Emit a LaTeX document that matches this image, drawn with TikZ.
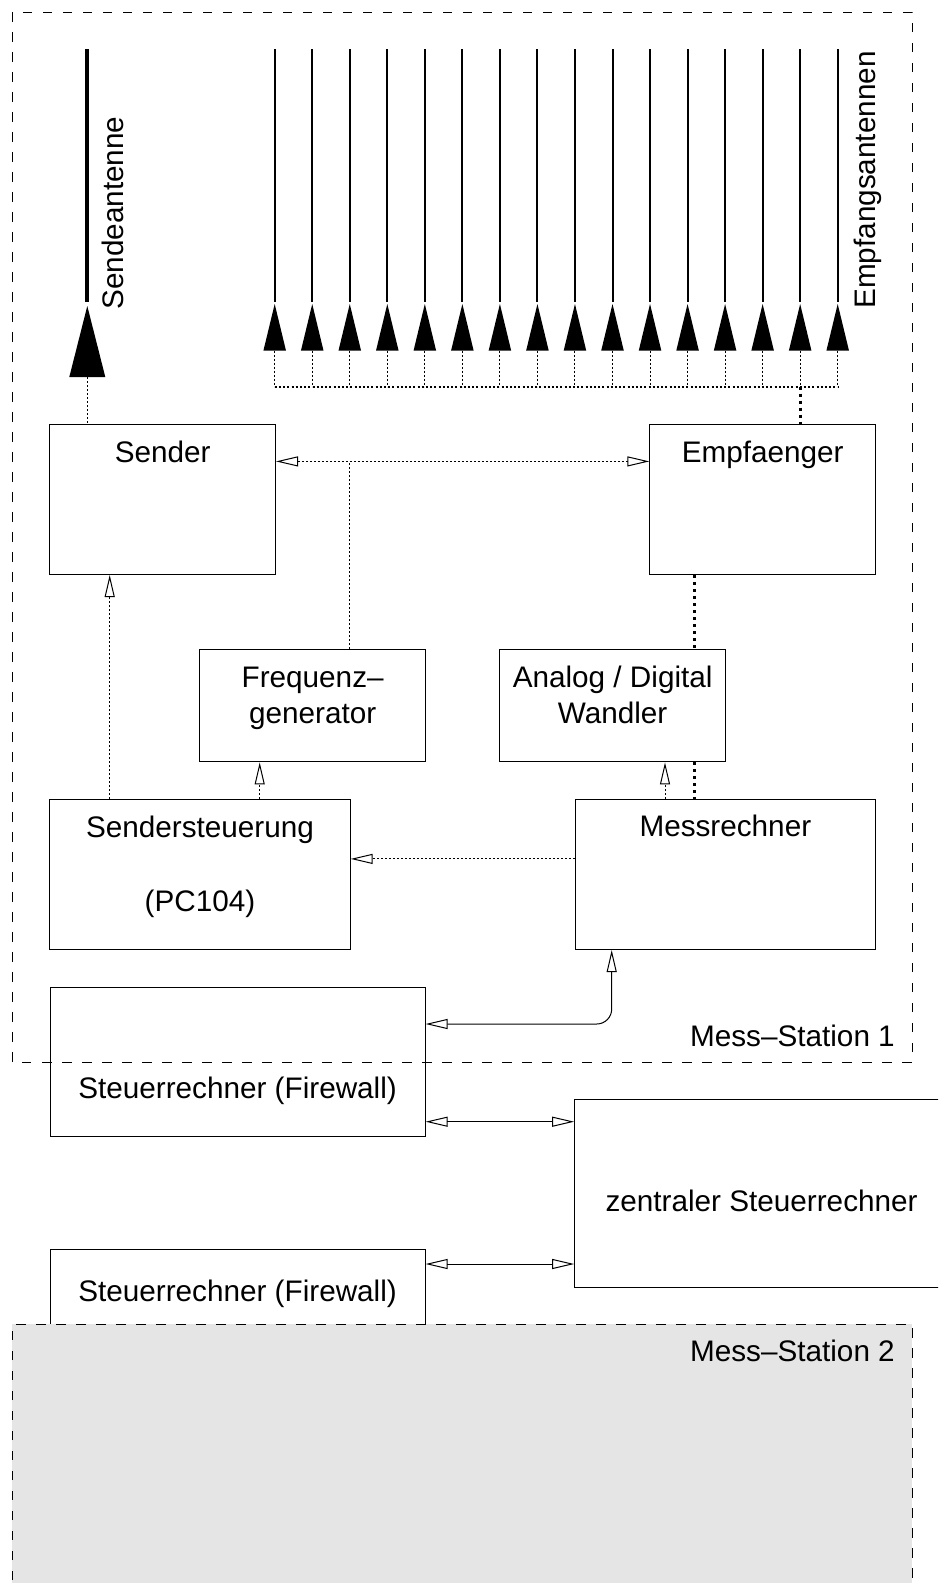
\documentclass[tikz,border=0pt]{standalone}
\usepackage{fontspec}
\setmainfont{Liberation Sans}
\usetikzlibrary{arrows.meta}
\definecolor{stgray}{RGB}{229,229,229}
\newcommand{\fsz}{\fontsize{29.7}{35.7}\selectfont}
\begin{document}
\begin{tikzpicture}[x=1pt,y=-1pt,
  box/.style={draw, line width=1pt, inner sep=0pt, anchor=north west},
  lbl/.style={anchor=base, inner sep=0pt, font=\fsz},
  thindot/.style={line width=1pt, dash pattern=on 2pt off 2pt},
  busdot/.style={line width=2pt, dash pattern=on 2pt off 2.2pt},
  thickdot/.style={line width=3pt, dash pattern=on 3pt off 4pt},
  framebox/.style={line width=1pt, dash pattern=on 9.5pt off 10.5pt},
  conn/.style={line width=1pt},
  oa/.tip={Triangle[open, length=22pt, width=10pt]}]
\useasboundingbox (0,0) rectangle (938,1583);
\clip (0,0) rectangle (938,1583);

% Mess-Station 1 frame
\draw[framebox] (12,12) rectangle (912,1062);

% helper coordinates
\coordinate (xSA) at (87.3,0);
\coordinate (xSS) at (109.7,0);
\coordinate (xSF) at (259.7,0);
\coordinate (xFT) at (349.7,0);
\coordinate (xEA) at (694.7,0);
\coordinate (xMA) at (665,0);
\coordinate (xMS) at (611.7,0);
\coordinate (yA) at (0,461.4);
\coordinate (yB) at (0,858.9);
\coordinate (yC) at (0,1024);
\coordinate (yD) at (0,1121.7);
\coordinate (yE) at (0,1264);

% Sendeantenne
\coordinate (saTop) at (87.3,49);
\coordinate (saBot) at (87.3,302);
\coordinate (saBase) at (87.3,377);
\draw[line width=4pt] (saTop) -- (saBot);
\fill (87.3,306) -- (69.3,377) -- (105.3,377) -- cycle;
\node[font=\fsz, rotate=90, anchor=base west, inner sep=0pt] (tsa) at (123,310) {Sendeantenne};

% Empfangsantennen
\foreach \i in {0,...,15} {
  \pgfmathsetmacro{\xx}{274.7+37.533*\i}
  \coordinate (ra\i) at (\xx,49);
  \coordinate (rb\i) at (\xx,302);
  \coordinate (rc\i) at (\xx,350.7);
  \coordinate (rd\i) at (\xx,386.7);
  \draw[line width=2pt] (ra\i) -- (rb\i);
  \fill (\xx,304) -- ++(-11.3,46.7) -- ++(22.6,0) -- cycle;
  \draw[thindot] (rc\i) -- (rd\i);
}
\draw[busdot] (rd0) -- (rd15);
\node[font=\fsz, rotate=90, anchor=base west, inner sep=0pt] (tea) at (875,309) {Empfangsantennen};

% boxes
\node[box, minimum width=225.7pt, minimum height=150pt] (sender) at (49.3,424) {};
\node[box, minimum width=225.7pt, minimum height=150pt] (empf) at (649.3,424) {};
\node[box, minimum width=225.7pt, minimum height=112.4pt] (freq) at (199.3,649) {};
\node[box, minimum width=225.7pt, minimum height=112.4pt] (adw) at (499.3,649) {};
\node[box, minimum width=300.4pt, minimum height=150pt] (sst) at (49.3,799) {};
\node[box, minimum width=300.3pt, minimum height=150pt] (mess) at (574.7,799) {};
\node[box, minimum width=375pt, minimum height=149.3pt] (str1) at (49.6,986.7) {};
\node[box, minimum width=375pt, minimum height=200pt] (str2) at (49.6,1249) {};
\node[box, minimum width=373.8pt, minimum height=187.7pt] (zen) at (574.2,1099) {};

% labels
\node[lbl] (tsender) at ([yshift=-38.5pt]sender.north) {Sender};
\node[lbl] (tempf) at ([yshift=-38.5pt]empf.north) {Empfaenger};
\node[lbl] (tfreq1) at ([yshift=-38.5pt]freq.north) {Frequenz–};
\node[lbl] (tfreq2) at ([yshift=-74.2pt]freq.north) {generator};
\node[lbl] (tadw1) at ([yshift=-38.5pt]adw.north) {Analog / Digital};
\node[lbl] (tadw2) at ([yshift=-74.2pt]adw.north) {Wandler};
\node[lbl] (tsst1) at ([yshift=-38.5pt]sst.north) {Sendersteuerung};
\node[lbl] (tsst2) at ([yshift=-112.4pt]sst.north) {(PC104)};
\node[lbl] (tmess) at ([yshift=-37.8pt]mess.north) {Messrechner};
\node[lbl] (tstr1) at ([yshift=-111.8pt]str1.north) {Steuerrechner (Firewall)};
\node[lbl] (tstr2) at ([yshift=-52.7pt]str2.north) {Steuerrechner (Firewall)};
\node[lbl] (tzen) at ([yshift=-112.7pt]zen.north) {zentraler Steuerrechner};
\node[lbl, anchor=base east] (tms1) at (895,1046.7) {Mess–Station 1};

% connectors
\draw[thindot] (saBase) -- (sender.north -| saBase);
\draw[thickdot] (rd14) -- (empf.north -| rd14);
\draw[thindot, oa-oa] (sender.east |- yA) -- (empf.west |- yA);
\draw[thindot] (freq.north -| xFT) -- (xFT |- yA);
\draw[thindot, -oa] (sst.north -| xSS) -- (sender.south -| xSS);
\draw[thindot, -oa] (sst.north -| xSF) -- (freq.south -| xSF);
\draw[thickdot] (empf.south -| xEA) -- (adw.north -| xEA);
\draw[thickdot] (adw.south -| xEA) -- (mess.north -| xEA);
\draw[thindot, -oa] (mess.north -| xMA) -- (adw.south -| xMA);
\draw[thindot, -oa] (mess.west |- yB) -- (sst.east |- yB);
\draw[conn, oa-oa, rounded corners=15pt] (mess.south -| xMS) -- (xMS |- yC) -- (str1.east |- yC);
\draw[conn, oa-oa] (str1.east |- yD) -- (zen.west |- yD);
\draw[conn, oa-oa] (str2.east |- yE) -- (zen.west |- yE);

% Mess-Station 2
\fill[stgray] (12,1324) rectangle (912,1620);
\draw[framebox] (12,1620) -- (12,1324) -- (912,1324) -- (912,1620);
\node[lbl, anchor=base east] (tms2) at (895,1361) {Mess–Station 2};
\end{tikzpicture}
\end{document}
